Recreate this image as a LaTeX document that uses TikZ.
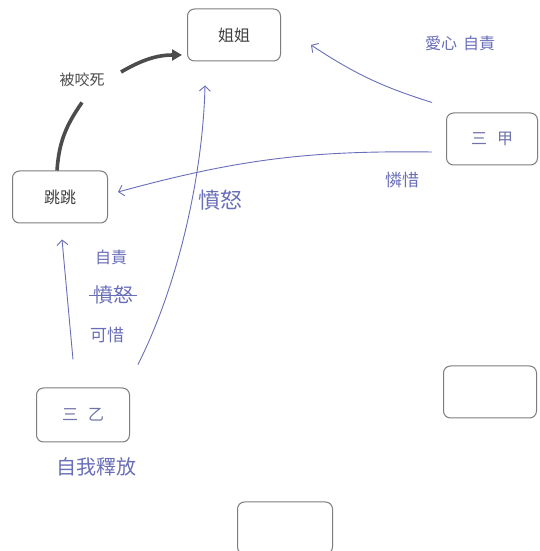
\documentclass[tikz,border=0pt]{standalone}
\usepackage{fontspec}
\newfontfamily\cjk{Noto Sans CJK TC}
\usetikzlibrary{arrows.meta}
\definecolor{pen}{RGB}{105,110,185}
\definecolor{frame}{RGB}{125,125,125}
\tikzset{
  box/.style={draw=frame, line width=1pt, rounded corners=7pt,
    minimum width=93pt, minimum height=52pt, text=black!75,
    font=\cjk\fontsize{16}{16}\selectfont},
  hand/.style={text=pen, font=\cjk\fontsize{16}{16}\selectfont},
  ink/.style={draw=pen, line width=0.9pt, -{Straight Barb[length=5pt,width=11pt]}},
}
\begin{document}
\begin{tikzpicture}[x=1pt,y=1pt]
  \clip (0,0) rectangle (539,551);
  \fill[white] (0,0) rectangle (539,551);
  \draw
    (234,516) node[box] (jie){姐姐}
    (60,354) node[box, minimum width=95pt] (tiao){跳跳}
    (492,412) node[box, minimum width=91pt, text=pen!70!gray] (jia){三\hspace{10pt}甲}
    (83,136) node[box, minimum height=54pt, text=pen!70!gray] (yi){三\hspace{10pt}乙}
    (490,159) node[box] (blankR){}
    (285,23) node[box, minimum width=95pt] (blankB){};
  \draw
    (82,471) node[font=\cjk\fontsize{15}{15}\selectfont, text=black!70] (bite){被咬死}
    (460,508) node[hand] (love){愛心\hspace{6pt}自責}
    (402,371) node[hand, font=\cjk\fontsize{17}{17}\selectfont] (pity){憐惜}
    (220,351) node[hand, font=\cjk\fontsize{22}{22}\selectfont] (anger){憤怒}
    (111,294) node[hand] (guilt){自責}
    (113,256) node[hand, font=\cjk\fontsize{20}{20}\selectfont] (struck){憤怒}
    (107,216) node[hand, font=\cjk\fontsize{17}{17}\selectfont] (pityb){可惜}
    (96,84) node[hand, font=\cjk\fontsize{20}{20}\selectfont] (release){自我釋放};
  \draw[pen, line width=0.9pt] (struck.west) -- (struck.east);
  \begin{scope}[draw=black!70, line width=3.6pt]
    \draw ([xshift=-3pt]tiao.north) to[out=86,in=235] ([yshift=-12pt]bite.south);
    \draw[-{Triangle[length=10pt,width=11pt]}] ([shift={(13pt,8pt)}]bite.east) to[out=30,in=180] ([shift={(-5pt,-20pt)}]jie.west);
  \end{scope}
  \begin{scope}[ink]
    \draw ([shift={(-14pt,10pt)}]jia.north west) to[bend left=8] ([shift={(30pt,-10pt)}]jie.east);
    \draw ([shift={(-14pt,-13pt)}]jia.west) to[bend right=8] ([shift={(10pt,5pt)}]tiao.east);
    \draw ([shift={(-10pt,28pt)}]yi.north) -- ([shift={(2pt,-16pt)}]tiao.south);
    \draw ([shift={(8pt,23pt)}]yi.north east) .. controls (180,270) and (203,380) .. ([shift={(-29pt,-24pt)}]jie.south);
  \end{scope}
\end{tikzpicture}
\end{document}
